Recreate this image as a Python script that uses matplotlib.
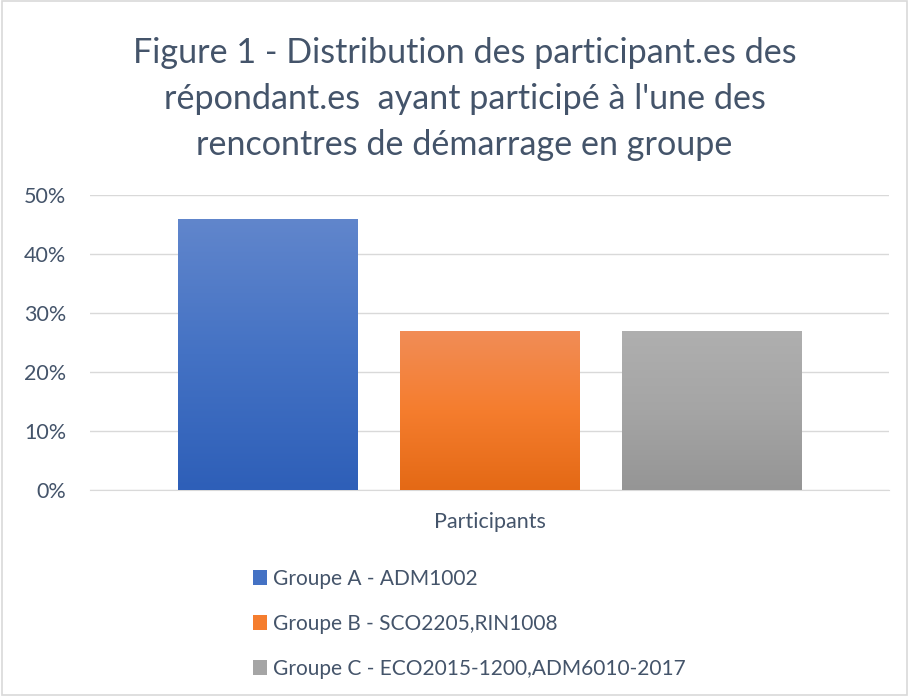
import numpy as np
import matplotlib
matplotlib.use("Agg")
import matplotlib.pyplot as plt
from matplotlib.colors import LinearSegmentedColormap
from matplotlib.patches import Rectangle

# Données
groupes = ["Groupe A - ADM1002", "Groupe B - SCO2205,RIN1008", "Groupe C - ECO2015-1200,ADM6010-2017"]
valeurs = [0.46, 0.27, 0.27]
categorie = "Participants"
yticks = [0, 0.1, 0.2, 0.3, 0.4, 0.5]
titre = "Figure 1 - Distribution des participant.es des\nrépondant.es  ayant participé à l'une des\nrencontres de démarrage en groupe"

# dégradés (haut, milieu, bas)
degrades = [("#6186CC", "#4472C4", "#2E5FB8"),
            ("#F18D57", "#F57D2E", "#E46915"),
            ("#AFAFAF", "#A5A5A5", "#959595")]

plt.rcParams['font.family'] = ['Lato', 'DejaVu Sans']
texte = "#44546A"

fig = plt.figure(figsize=(9.09, 6.96), dpi=100)
ax = fig.add_axes([90/909, 1-490/696, 799/909, 295/696])

x = np.arange(len(valeurs))
bars = ax.bar(x, valeurs, width=0.81, color=[d[1] for d in degrades], zorder=2)

# remplissage en dégradé vertical
for b, d in zip(bars, degrades):
    cmap = LinearSegmentedColormap.from_list("g", [d[2], d[1], d[0]])
    grad = np.linspace(0, 1, 256).reshape(-1, 1)
    x0, y0, w, h = b.get_x(), b.get_y(), b.get_width(), b.get_height()
    im = ax.imshow(grad, cmap=cmap, origin="lower", aspect="auto",
                   extent=[x0, x0 + w, y0, y0 + h], zorder=3)
    im.set_clip_path(b)

ax.set_xlim(-0.80, 2.80)
ax.set_ylim(0, 0.5)
ax.set_yticks(yticks)
ax.set_yticklabels([f"{int(round(t*100))}%" for t in yticks], fontsize=15.5, color=texte)
ax.set_xticks([1])
ax.set_xticklabels([categorie], fontsize=15.5, color=texte)
ax.tick_params(length=0)
ax.tick_params(axis="x", pad=16)
ax.tick_params(axis="y", pad=17)
ax.grid(axis="y", color="#D9D9D9", linewidth=1, zorder=0)
for s in ["top", "right", "left"]:
    ax.spines[s].set_visible(False)
ax.spines["bottom"].set_color("#D9D9D9")

fig.text(0.511, 0.858, titre, ha="center", va="center", fontsize=24.6, color=texte, linespacing=1.55)

leg = fig.legend(bars, groupes, loc="upper left", bbox_to_anchor=(234/909, 1-550/696),
                 frameon=False, fontsize=15, labelcolor=texte, handlelength=0.67,
                 handleheight=0.67, handletextpad=0.3, labelspacing=1.2)

fig.patches.append(Rectangle((0.002, 0.002), 0.996, 0.996, transform=fig.transFigure,
                             fill=False, edgecolor="#D9D9D9", linewidth=1.2))

fig.savefig("out.png", dpi=100)
